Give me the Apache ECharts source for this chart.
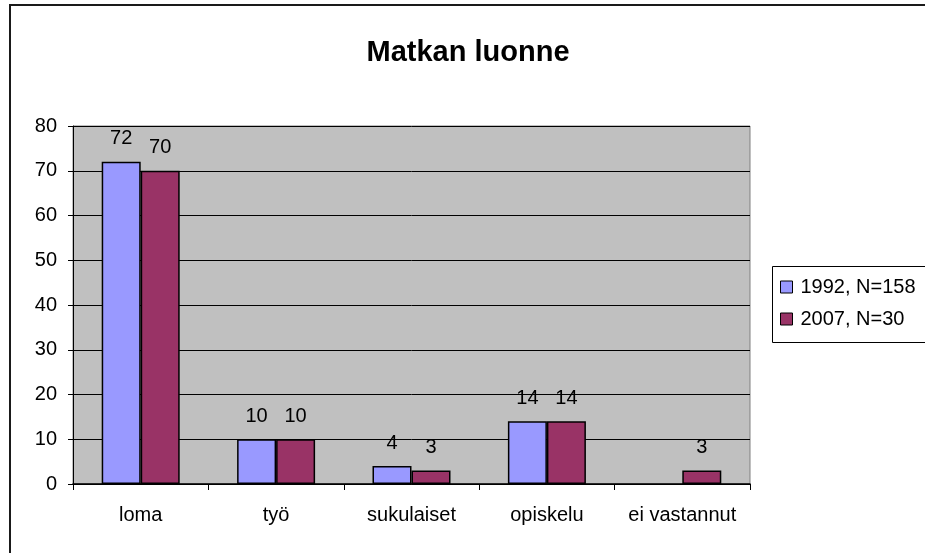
<!DOCTYPE html>
<html>
<head>
<meta charset="utf-8">
<script src="https://cdn.jsdelivr.net/npm/echarts@6/dist/echarts.min.js"></script>
<style>
  html, body { margin: 0; padding: 0; background: #fff; }
  #chart { width: 925px; height: 553px; }
</style>
</head>
<body>
<div id="chart"></div>
<script>
  // categories and values
  const categories = ['loma', 'työ', 'sukulaiset', 'opiskelu', 'ei vastannut']
  const values1992 = [72, 10, 4, 14, null]
  const values2007 = [70, 10, 3, 14, 3]
  const seriesNames = ['1992, N=158', '2007, N=30']
  const yTicks = { min: 0, max: 80, interval: 10 }

  const font = 'Liberation Sans, Arial, sans-serif'
  const chart = echarts.init(document.getElementById('chart'))

  const barStyle = (color) => ({
    color: color,
    borderColor: '#000',
    borderWidth: 1.5,
  })
  const labelStyle = {
    show: true,
    position: 'top',
    distance: 13,
    color: '#000',
    fontSize: 20,
    fontFamily: font,
  }

  chart.setOption({
    backgroundColor: '#fff',
    animation: false,
    title: {
      text: 'Matkan luonne',
      left: 463,
      textAlign: 'center',
      top: 33,
      textStyle: { fontSize: 29, fontWeight: 'bold', fontFamily: font, color: '#000' },
    },
    graphic: [
      {
        type: 'rect',
        shape: { x: 10, y: 5, width: 940, height: 560 },
        style: { fill: 'none', stroke: '#1a1a1a', lineWidth: 2 },
        z: -1,
      },
      {
        type: 'rect',
        shape: { x: 772.5, y: 266.5, width: 200, height: 76 },
        style: { fill: '#fff', stroke: '#000', lineWidth: 1 },
        z: 0,
      },
    ],
    legend: {
      data: seriesNames,
      orient: 'vertical',
      left: 780,
      top: 277,
      padding: 0,
      itemGap: 12,
      itemWidth: 12,
      itemHeight: 12,
      icon: 'rect',
      itemStyle: { borderColor: '#000', borderWidth: 1 },
      textStyle: { fontSize: 20, fontFamily: font, color: '#000', padding: [0, 0, 0, 3] },
      z: 5,
    },
    grid: {
      left: 73,
      right: 175,
      top: 126,
      bottom: 69,
      show: true,
      backgroundColor: '#c0c0c0',
      borderColor: '#808080',
      borderWidth: 1,
    },
    xAxis: {
      type: 'category',
      data: categories,
      axisLine: { lineStyle: { color: '#000', width: 1.5 } },
      axisTick: { show: true, length: 6, lineStyle: { color: '#000' } },
      axisLabel: { color: '#000', fontSize: 20, fontFamily: font, margin: 21, interval: 0 },
    },
    yAxis: {
      type: 'value',
      min: yTicks.min,
      max: yTicks.max,
      interval: yTicks.interval,
      axisLine: { show: true, lineStyle: { color: '#000', width: 1 } },
      axisTick: { show: true, length: 5, lineStyle: { color: '#000' } },
      axisLabel: { color: '#000', fontSize: 20, fontFamily: font, margin: 16 },
      splitLine: { lineStyle: { color: '#000', width: 1 } },
    },
    series: [
      {
        name: seriesNames[0],
        type: 'bar',
        data: values1992,
        barWidth: 39,
        barGap: '0%',
        itemStyle: barStyle('#9999ff'),
        label: labelStyle,
      },
      {
        name: seriesNames[1],
        type: 'bar',
        data: values2007,
        barWidth: 39,
        itemStyle: barStyle('#993366'),
        label: labelStyle,
      },
    ],
  })
</script>
</body>
</html>
